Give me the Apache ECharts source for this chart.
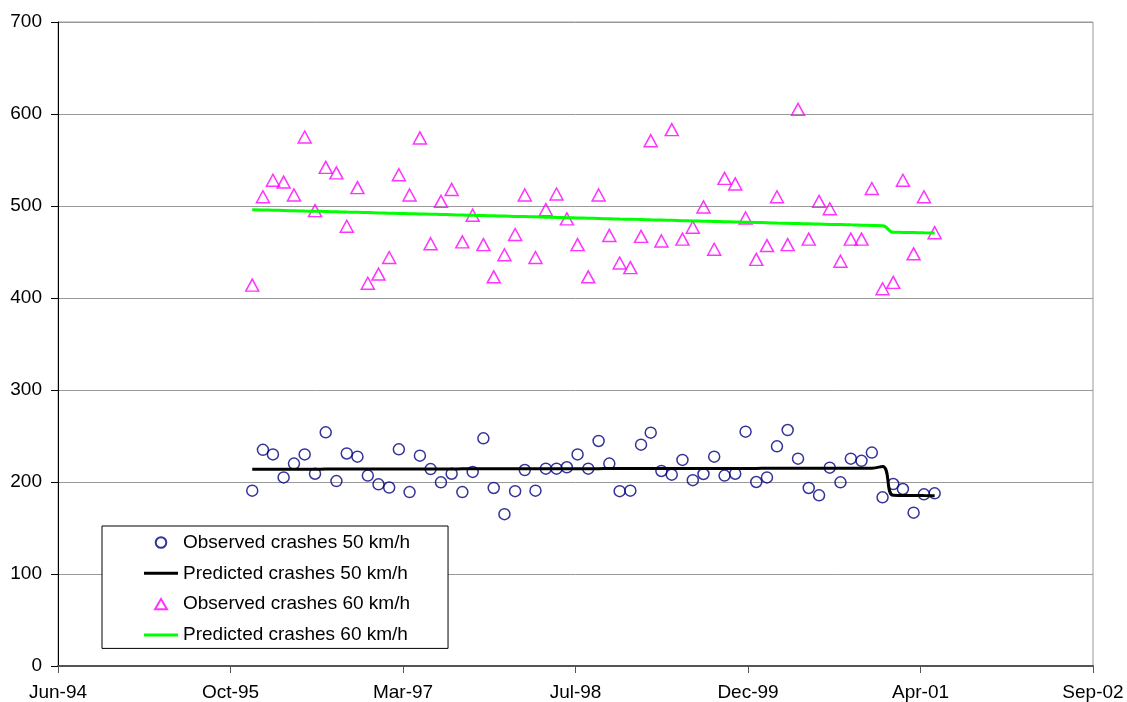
<!DOCTYPE html>
<html><head><meta charset="utf-8">
<script src="https://cdn.jsdelivr.net/npm/echarts@6/dist/echarts.min.js"></script>
<style>html,body{margin:0;padding:0;background:#fff}#c{width:1127px;height:702px}</style>
</head><body><div id="c"></div>
<script>
const months = ['1996-01','1996-02','1996-03','1996-04','1996-05','1996-06','1996-07','1996-08','1996-09','1996-10','1996-11','1996-12',
'1997-01','1997-02','1997-03','1997-04','1997-05','1997-06','1997-07','1997-08','1997-09','1997-10','1997-11','1997-12',
'1998-01','1998-02','1998-03','1998-04','1998-05','1998-06','1998-07','1998-08','1998-09','1998-10','1998-11','1998-12',
'1999-01','1999-02','1999-03','1999-04','1999-05','1999-06','1999-07','1999-08','1999-09','1999-10','1999-11','1999-12',
'2000-01','2000-02','2000-03','2000-04','2000-05','2000-06','2000-07','2000-08','2000-09','2000-10','2000-11','2000-12',
'2001-01','2001-02','2001-03','2001-04','2001-05','2001-06'];

const observed50 = [190.6,235,230,205,220,230,209,254,201,231,227.5,207,197.5,194,235.5,189,228.6,
214,199.6,209,189,211,247.5,193.5,165,190,213,190.6,214.5,214.5,216,230,214.5,
244.6,220,190,190.6,240.6,253.6,212,208,224,202,208.7,227.5,207,209,254.7,200,205,
238.8,256.5,225.4,193.5,185.5,215.6,199.6,225.4,223,232,183.3,197.8,192.4,166.7,186.6,187.7];

const predicted50 = [213.8,213.8,213.8,213.9,213.9,213.9,213.9,214.0,214.0,214.0,
214.0,214.0,214.1,214.1,214.1,214.1,214.2,214.2,214.2,214.2,
214.3,214.3,214.3,214.3,214.3,214.4,214.4,214.4,214.4,214.5,
214.5,214.5,214.5,214.5,214.6,214.6,214.6,214.6,214.6,214.7,
214.7,214.7,214.7,214.7,214.8,214.8,214.8,214.8,214.8,214.9,
214.9,214.9,214.9,214.9,215.0,215.0,215.0,215.0,215.0,215.0,
216.8,185.5,185.4,185.3,185.2,185.1];

const observed60 = [414,510,528,526,512,575,495,542,536,478,520,416,426,444,534,512,574,
459,505,518,461,490,458,423,447,469,512,444,496,513,486,458,423,
512,468,438,433,467,571,462,583,464,477,499,453,530,524,487,442,457,
510,458,605,464,505,497,440,464,464,519,410,417,528,448,510,471];

const predicted60 = [496.0,495.7,495.4,495.1,494.8,494.5,494.3,494.0,493.7,493.4,
493.1,492.8,492.5,492.2,491.9,491.6,491.4,491.1,490.8,490.5,
490.2,489.9,489.6,489.3,489.0,488.7,488.5,488.2,487.9,487.6,
487.3,487.0,486.7,486.4,486.1,485.8,485.6,485.3,485.0,484.7,
484.4,484.1,483.8,483.5,483.2,482.9,482.7,482.4,482.1,481.8,
481.5,481.2,480.9,480.6,480.3,480.0,479.8,479.5,479.2,478.9,
478.6,471.5,471.3,471.1,470.9,470.7];

const seriesNames = ['Observed crashes 50 km/h','Predicted crashes 50 km/h','Observed crashes 60 km/h','Predicted crashes 60 km/h'];
const xTickLabels = ['Jun-94','Oct-95','Mar-97','Jul-98','Dec-99','Apr-01','Sep-02'];
const xMin = 34502, xInterval = 500, xMax = 37502; // Excel day serials
const yMin = 0, yMax = 700, yInterval = 100;

function toSerial(m){ const p = m.split('-'); return Date.UTC(+p[0], +p[1]-1, 1)/86400000 + 25569; }
const pts = arr => months.map((m,i)=>[toSerial(m), arr[i]]);

// legend icons drawn in a 34x12 box (leading moves fix the box extent)
const BOX = 'path://M0,0 M34,12 ';
const iconCircle = BOX + 'M22.3,6 A5.3,5.3 0 1,1 11.7,6 A5.3,5.3 0 1,1 22.3,6 Z';
const iconTri = BOX + 'M17,0.8 L23,11.2 L11,11.2 Z';
const iconLine = BOX + 'M0,4.5 L34,4.5 L34,7.5 L0,7.5 Z';

const FONT = 'Liberation Sans, Arial, sans-serif';
const chart = echarts.init(document.getElementById('c'), null, {renderer:'canvas'});
chart.setOption({
  animation:false,
  backgroundColor:'#fff',
  textStyle:{fontFamily:FONT},
  grid:{left:58,right:34,top:22,bottom:36,show:true,borderColor:'#999',borderWidth:1,backgroundColor:'transparent'},
  xAxis:{type:'value',min:xMin,max:xMax,interval:xInterval,
    axisLine:{show:true,onZero:false,lineStyle:{color:'#555',width:2}},
    axisTick:{show:true,length:7,lineStyle:{color:'#555',width:1}},
    axisLabel:{margin:17,fontSize:19,color:'#000',fontFamily:FONT,
      formatter:v=>xTickLabels[Math.round((v-xMin)/xInterval)]||''},
    splitLine:{show:false}},
  yAxis:{type:'value',min:yMin,max:yMax,interval:yInterval,
    axisLine:{show:true,lineStyle:{color:'#000',width:1}},
    axisTick:{show:true,length:7,lineStyle:{color:'#000',width:1}},
    axisLabel:{margin:16,fontSize:19,color:'#000',fontFamily:FONT},
    splitLine:{show:true,lineStyle:{color:'#999',width:1}}},
  legend:{left:102,top:526,orient:'vertical',backgroundColor:'#fff',borderColor:'#000',borderWidth:1,
    padding:[6.5,38,3.5,41],itemGap:10.8,itemWidth:34,itemHeight:12,
    textStyle:{fontSize:19,color:'#000',fontFamily:FONT,lineHeight:20},
    data:[
      {name:seriesNames[0],icon:iconCircle},
      {name:seriesNames[1],icon:iconLine},
      {name:seriesNames[2],icon:iconTri},
      {name:seriesNames[3],icon:iconLine}
    ]},
  series:[
    {name:seriesNames[0],type:'scatter',data:pts(observed50),symbol:'circle',symbolSize:11,
      itemStyle:{color:'rgba(255,255,255,0)',borderColor:'#000080',borderWidth:1.5}},
    {name:seriesNames[1],type:'line',data:pts(predicted50),showSymbol:false,symbol:'none',smooth:0.5,
      lineStyle:{color:'#000',width:3},itemStyle:{color:'#000'}},
    {name:seriesNames[2],type:'scatter',data:pts(observed60),symbol:'triangle',symbolSize:[13,12],
      itemStyle:{color:'rgba(255,255,255,0)',borderColor:'#FF00FF',borderWidth:1.5}},
    {name:seriesNames[3],type:'line',data:pts(predicted60),showSymbol:false,symbol:'none',smooth:0.5,
      lineStyle:{color:'#00FF00',width:3},itemStyle:{color:'#00FF00'}}
  ]
});
</script></body></html>
